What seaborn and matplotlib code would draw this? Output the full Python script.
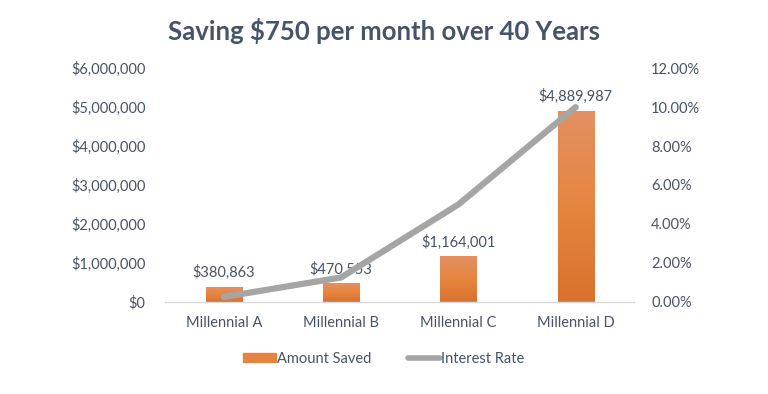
import numpy as np
import pandas as pd
import matplotlib.pyplot as plt
import seaborn as sns
from matplotlib.patches import Patch
from matplotlib.lines import Line2D
from matplotlib.ticker import FuncFormatter
from matplotlib.colors import LinearSegmentedColormap

sns.set_style('white')
plt.rcParams['font.family'] = ['Lato', 'DejaVu Sans']

TEXT = '#44546A'
ORANGE = '#E5843F'
GREY = '#A5A5A5'

# Data
people = ['Millennial A', 'Millennial B', 'Millennial C', 'Millennial D']
amount_saved = [380863, 470553, 1164001, 4889987]
interest_rate = [0.0025, 0.0125, 0.05, 0.10]

df = pd.DataFrame({'Person': people, 'Amount': amount_saved, 'Rate': interest_rate})

fig = plt.figure(figsize=(7.68, 3.94), dpi=100)
ax = fig.add_axes([0.215, 0.234, 0.611, 0.593])

sns.barplot(data=df, x='Person', y='Amount', color=ORANGE, width=0.31,
            saturation=1, ax=ax)
ax.set_ylim(0, 6000000)
ax.set_xlim(-0.5, 3.5)
ax.set_yticks(range(0, 6000001, 1000000))
ax.yaxis.set_major_formatter(FuncFormatter(lambda v, p: f'${v:,.0f}'))
ax.set_xlabel('')
ax.set_ylabel('')

# Excel-style vertical gradient on bars
grad = LinearSegmentedColormap.from_list('bar', ['#D8722E', '#E6853F', '#E39062'])
for bar in ax.patches:
    x0, w, h = bar.get_x(), bar.get_width(), bar.get_height()
    im = ax.imshow(np.linspace(0, 1, 100).reshape(-1, 1), cmap=grad, aspect='auto',
                   origin='lower', extent=[x0, x0 + w, 0, h], zorder=bar.get_zorder() + 0.1)
    im.set_clip_path(bar)
ax.set_xlim(-0.5, 3.5)
ax.set_ylim(0, 6000000)

for bar, val in zip(ax.patches, amount_saved):
    ax.text(bar.get_x() + bar.get_width() / 2, val + 180000, f'${val:,.0f}',
            ha='center', va='bottom', fontsize=10.5, color=TEXT)

ax2 = ax.twinx()
sns.lineplot(x=range(len(people)), y=interest_rate, color=GREY, linewidth=4.5,
             sort=False, ax=ax2, solid_capstyle='round')
ax2.set_ylim(0, 0.12)
ax2.set_yticks([i * 0.02 for i in range(7)])
ax2.yaxis.set_major_formatter(FuncFormatter(lambda v, p: f'{v * 100:.2f}%'))

for a in (ax, ax2):
    for s in a.spines.values():
        s.set_visible(False)
    a.tick_params(length=0, labelsize=10.5, labelcolor=TEXT)
ax.tick_params(axis='y', pad=14)
ax2.tick_params(axis='y', pad=12)
ax.spines['bottom'].set_visible(True)
ax.spines['bottom'].set_color('#D9D9D9')
ax.spines['bottom'].set_linewidth(1)
ax.tick_params(axis='x', pad=10)

fig.suptitle('Saving $750 per month over 40 Years', x=0.5, y=0.955,
             fontsize=18.5, fontweight='bold', color=TEXT)

handles = [Patch(color=ORANGE, label='Amount Saved'),
           Line2D([0], [0], color=GREY, linewidth=4, label='Interest Rate')]
fig.legend(handles=handles, loc='center', bbox_to_anchor=(0.5, 0.09), ncol=2,
           frameon=False, fontsize=10.5, labelcolor=TEXT, handlelength=2.2,
           handleheight=0.6, handletextpad=0.1, columnspacing=2.5)

fig.savefig('out.png', dpi=100)
